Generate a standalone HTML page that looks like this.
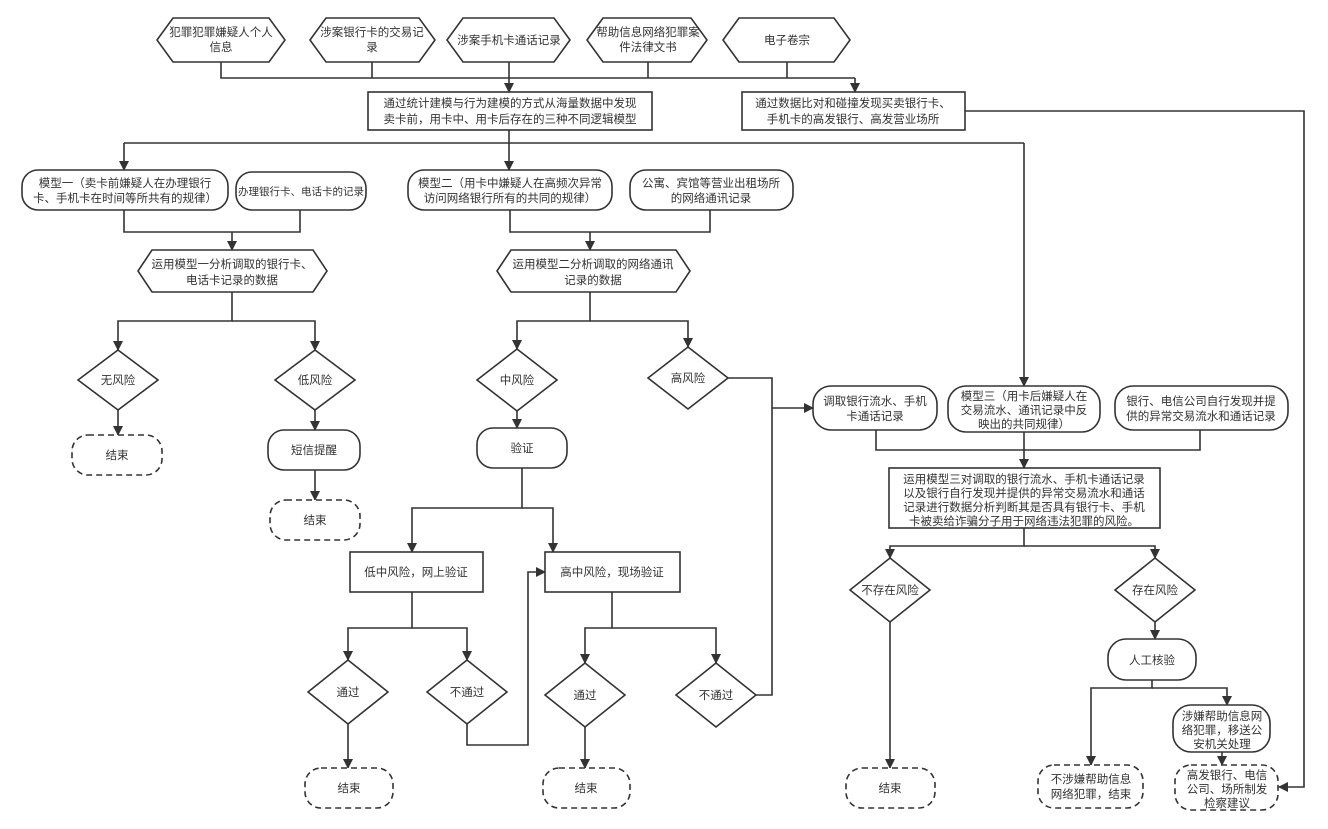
<!DOCTYPE html>
<html><head><meta charset="utf-8"><style>
html,body{margin:0;padding:0;background:#fff}
svg{display:block}
text{font-family:"Liberation Sans","Noto Sans CJK SC",sans-serif;font-size:11.5px;fill:#333;text-anchor:middle}
.s{fill:#fff;stroke:#333;stroke-width:1.6}
.d{fill:#fff;stroke:#333;stroke-width:1.6;stroke-dasharray:6,4}
.l{fill:none;stroke:#333;stroke-width:1.6}
</style></head><body>
<svg width="1328" height="829" viewBox="0 0 1328 829">
<defs><marker id="a" markerWidth="10" markerHeight="10" refX="9" refY="5" orient="auto" markerUnits="userSpaceOnUse"><path d="M0,0 L10,5 L0,10 z" fill="#333"/></marker></defs>

<g class="l">
<path d="M221,62V78H855"/><path d="M372,62V78"/><path d="M648,62V78"/><path d="M787,62V78"/>
<path d="M509,62V92" marker-end="url(#a)"/><path d="M855,78V92" marker-end="url(#a)"/>
<path d="M965,111H1304V787H1279" marker-end="url(#a)"/>
<path d="M509,130V143H1024"/><path d="M124,143H509"/>
<path d="M124,143V170" marker-end="url(#a)"/><path d="M509,143V170" marker-end="url(#a)"/><path d="M1024,143V386" marker-end="url(#a)"/>
<path d="M124,210V232H300V210"/><path d="M232,232V250" marker-end="url(#a)"/>
<path d="M510,210V232H710V210"/><path d="M590,232V250" marker-end="url(#a)"/>
<path d="M232,292V321H118V350" marker-end="url(#a)"/><path d="M232,321H315V350" marker-end="url(#a)"/>
<path d="M590,292V321H517V349" marker-end="url(#a)"/><path d="M590,321H688V347" marker-end="url(#a)"/>
<path d="M118,410V435" marker-end="url(#a)"/>
<path d="M315,410V430" marker-end="url(#a)"/><path d="M315,470V500" marker-end="url(#a)"/>
<path d="M517,411V428" marker-end="url(#a)"/>
<path d="M522,468V508H412V552" marker-end="url(#a)"/><path d="M522,508H553V552" marker-end="url(#a)"/>
<path d="M412,592V628H348V660" marker-end="url(#a)"/><path d="M412,628H467V660" marker-end="url(#a)"/>
<path d="M348,724V768" marker-end="url(#a)"/>
<path d="M467,724V745H528V572H545" marker-end="url(#a)"/>
<path d="M612,592V628H585V663" marker-end="url(#a)"/><path d="M612,628H716V663" marker-end="url(#a)"/>
<path d="M585,727V768" marker-end="url(#a)"/>
<path d="M756,695H772V378H728"/><path d="M772,408H813" marker-end="url(#a)"/>
<path d="M876,430V450H1200V430"/><path d="M1024,432V468" marker-end="url(#a)"/>
<path d="M1024,528V546H890V558" marker-end="url(#a)"/><path d="M1024,546H1155V558" marker-end="url(#a)"/>
<path d="M890,622V768" marker-end="url(#a)"/>
<path d="M1155,622V639" marker-end="url(#a)"/>
<path d="M1152,680V688H1091V765" marker-end="url(#a)"/><path d="M1152,688H1227V705" marker-end="url(#a)"/>
<path d="M1222,752V765" marker-end="url(#a)"/>
</g>

<g>
<polygon class="s" points="157,40 173,18 269,18 285,40 269,62 173,62"/>
<text x="221" y="36">犯罪犯罪嫌疑人个人</text><text x="221" y="51">信息</text>
<polygon class="s" points="310,40 326,18 419,18 435,40 419,62 326,62"/>
<text x="372" y="36">涉案银行卡的交易记</text><text x="372" y="51">录</text>
<polygon class="s" points="447,40 463,18 554,18 570,40 554,62 463,62"/>
<text x="509" y="44">涉案手机卡通话记录</text>
<polygon class="s" points="587,40 603,18 691,18 707,40 691,62 603,62"/>
<text x="648" y="36">帮助信息网络犯罪案</text><text x="648" y="51">件法律文书</text>
<polygon class="s" points="723,40 739,18 834,18 850,40 834,62 739,62"/>
<text x="787" y="44">电子卷宗</text>
</g>

<rect class="s" x="368" y="92" width="284" height="38"/>
<text x="510" y="107">通过统计建模与行为建模的方式从海量数据中发现</text><text x="510" y="123">卖卡前，用卡中、用卡后存在的三种不同逻辑模型</text>
<rect class="s" x="742" y="92" width="223" height="38"/>
<text x="853" y="107">通过数据比对和碰撞发现买卖银行卡、</text><text x="853" y="123">手机卡的高发银行、高发营业场所</text>

<rect class="s" x="22" y="170" width="206" height="40" rx="16"/>
<text x="125" y="187">模型一（卖卡前嫌疑人在办理银行</text><text x="125" y="202">卡、手机卡在时间等所共有的规律）</text>
<rect class="s" x="236" y="172" width="130" height="38" rx="16"/>
<text x="301" y="195" style="font-size:10.5px">办理银行卡、电话卡的记录</text>
<rect class="s" x="408" y="170" width="204" height="40" rx="16"/>
<text x="510" y="187">模型二（用卡中嫌疑人在高频次异常</text><text x="510" y="202">访问网络银行所有的共同的规律）</text>
<rect class="s" x="630" y="170" width="163" height="40" rx="16"/>
<text x="711" y="187">公寓、宾馆等营业出租场所</text><text x="711" y="202">的网络通讯记录</text>

<polygon class="s" points="138,271 152,250 313,250 327,271 313,292 152,292"/>
<text x="232" y="268">运用模型一分析调取的银行卡、</text><text x="232" y="284">电话卡记录的数据</text>
<polygon class="s" points="497,271 511,250 676,250 690,271 676,292 511,292"/>
<text x="593" y="268">运用模型二分析调取的网络通讯</text><text x="593" y="284">记录的数据</text>

<polygon class="s" points="78,380 118,350 158,380 118,410"/><text x="118" y="384">无风险</text>
<polygon class="s" points="275,380 315,350 355,380 315,410"/><text x="315" y="384">低风险</text>
<polygon class="s" points="477,380 517,349 557,380 517,411"/><text x="517" y="384">中风险</text>
<polygon class="s" points="648,378 688,347 728,378 688,409"/><text x="688" y="382">高风险</text>

<rect class="d" x="72" y="435" width="90" height="40" rx="16"/><text x="117" y="459">结束</text>
<rect class="s" x="268" y="430" width="92" height="40" rx="16"/><text x="314" y="454">短信提醒</text>
<rect class="d" x="270" y="500" width="90" height="40" rx="16"/><text x="315" y="524">结束</text>
<rect class="s" x="477" y="428" width="90" height="40" rx="16"/><text x="522" y="452">验证</text>

<rect class="s" x="350" y="552" width="133" height="40"/><text x="416" y="576">低中风险，网上验证</text>
<rect class="s" x="545" y="552" width="135" height="40"/><text x="612" y="576">高中风险，现场验证</text>

<polygon class="s" points="308,692 348,660 388,692 348,724"/><text x="348" y="696">通过</text>
<polygon class="s" points="427,692 467,660 507,692 467,724"/><text x="467" y="696">不通过</text>
<polygon class="s" points="545,695 585,663 625,695 585,727"/><text x="585" y="699">通过</text>
<polygon class="s" points="676,695 716,663 756,695 716,727"/><text x="716" y="699">不通过</text>

<rect class="d" x="305" y="768" width="88" height="40" rx="16"/><text x="349" y="792">结束</text>
<rect class="d" x="543" y="768" width="87" height="40" rx="16"/><text x="586" y="792">结束</text>

<rect class="s" x="813" y="386" width="124" height="44" rx="18"/>
<text x="875" y="405">调取银行流水、手机</text><text x="875" y="420">卡通话记录</text>
<rect class="s" x="948" y="386" width="152" height="46" rx="18"/>
<text x="1024" y="400">模型三（用卡后嫌疑人在</text><text x="1024" y="414">交易流水、通讯记录中反</text><text x="1024" y="428">映出的共同规律）</text>
<rect class="s" x="1115" y="386" width="173" height="44" rx="18"/>
<text x="1201" y="405">银行、电信公司自行发现并提</text><text x="1201" y="420">供的异常交易流水和通话记录</text>

<rect class="s" x="889" y="468" width="271" height="60"/>
<text x="1024" y="483">运用模型三对调取的银行流水、手机卡通话记录</text>
<text x="1024" y="497">以及银行自行发现并提供的异常交易流水和通话</text>
<text x="1024" y="511">记录进行数据分析判断其是否具有银行卡、手机</text>
<text x="1024" y="525">卡被卖给诈骗分子用于网络违法犯罪的风险。</text>

<polygon class="s" points="850,590 890,558 930,590 890,622"/><text x="890" y="594">不存在风险</text>
<polygon class="s" points="1115,590 1155,558 1195,590 1155,622"/><text x="1155" y="594">存在风险</text>

<rect class="d" x="846" y="768" width="89" height="40" rx="16"/><text x="890" y="792">结束</text>
<rect class="s" x="1108" y="639" width="88" height="41" rx="18"/><text x="1152" y="664">人工核验</text>
<rect class="s" x="1173" y="705" width="97" height="47" rx="18"/>
<text x="1222" y="720">涉嫌帮助信息网</text><text x="1222" y="734">络犯罪，移送公</text><text x="1222" y="748">安机关处理</text>
<rect class="d" x="1038" y="765" width="105" height="43" rx="16"/>
<text x="1091" y="783">不涉嫌帮助信息</text><text x="1091" y="798">网络犯罪，结束</text>
<rect class="d" x="1175" y="765" width="103" height="45" rx="16"/>
<text x="1227" y="779">高发银行、电信</text><text x="1227" y="793">公司、场所制发</text><text x="1227" y="807">检察建议</text>
</svg>
</body></html>
